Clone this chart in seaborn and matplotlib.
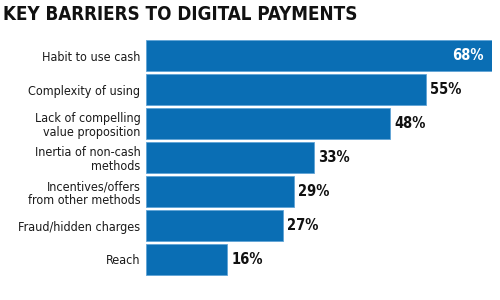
import matplotlib
matplotlib.use("Agg")
import matplotlib.pyplot as plt
import seaborn as sns
import pandas as pd

categories = [
    "Habit to use cash",
    "Complexity of using",
    "Lack of compelling\nvalue proposition",
    "Inertia of non-cash\nmethods",
    "Incentives/offers\nfrom other methods",
    "Fraud/hidden charges",
    "Reach",
]
values = [68, 55, 48, 33, 29, 27, 16]
value_labels = ["68%", "55%", "48%", "33%", "29%", "27%", "16%"]
title = "KEY BARRIERS TO DIGITAL PAYMENTS"

sns.set_theme(style="white")
plt.rcParams["font.family"] = ["DejaVu Sans"]

df = pd.DataFrame({"barrier": categories, "share": values})

fig = plt.figure(figsize=(5, 3), dpi=100)
ax = fig.add_axes([146 / 500, 1 - 276.5 / 300, 346 / 500, 238 / 300])

blue = "#0a6eb4"
sns.barplot(data=df, y="barrier", x="share", orient="h", color=blue,
            saturation=1, width=0.91, ax=ax, edgecolor="#5fa3d6",
            linewidth=0.6)

ax.set_xlim(0, 68)
ax.set_ylim(6.5, -0.5)
ax.set_xlabel("")
ax.set_ylabel("")
ax.set_xticks([])
for s in ax.spines.values():
    s.set_visible(False)

ax.set_yticks(range(len(categories)))
ax.set_yticklabels(categories, fontsize=9, fontstretch="condensed",
                   linespacing=1.05, color="#1a1a1a")
ax.tick_params(axis="y", length=0, pad=4)

for i, (v, lab) in enumerate(zip(values, value_labels)):
    if i == 0:
        ax.text(v - 1.7, i, lab, ha="right", va="center", color="white",
                fontsize=10.5, fontweight="bold", fontstretch="condensed")
    else:
        ax.text(v + 0.8, i, lab, ha="left", va="center", color="#111111",
                fontsize=10.5, fontweight="bold", fontstretch="condensed")

fig.text(3 / 500, 1 - 14 / 300, title, ha="left", va="center",
         fontsize=13.5, fontweight="bold", fontstretch="condensed",
         color="#111111")

fig.savefig("out.png", dpi=100, facecolor="white")
